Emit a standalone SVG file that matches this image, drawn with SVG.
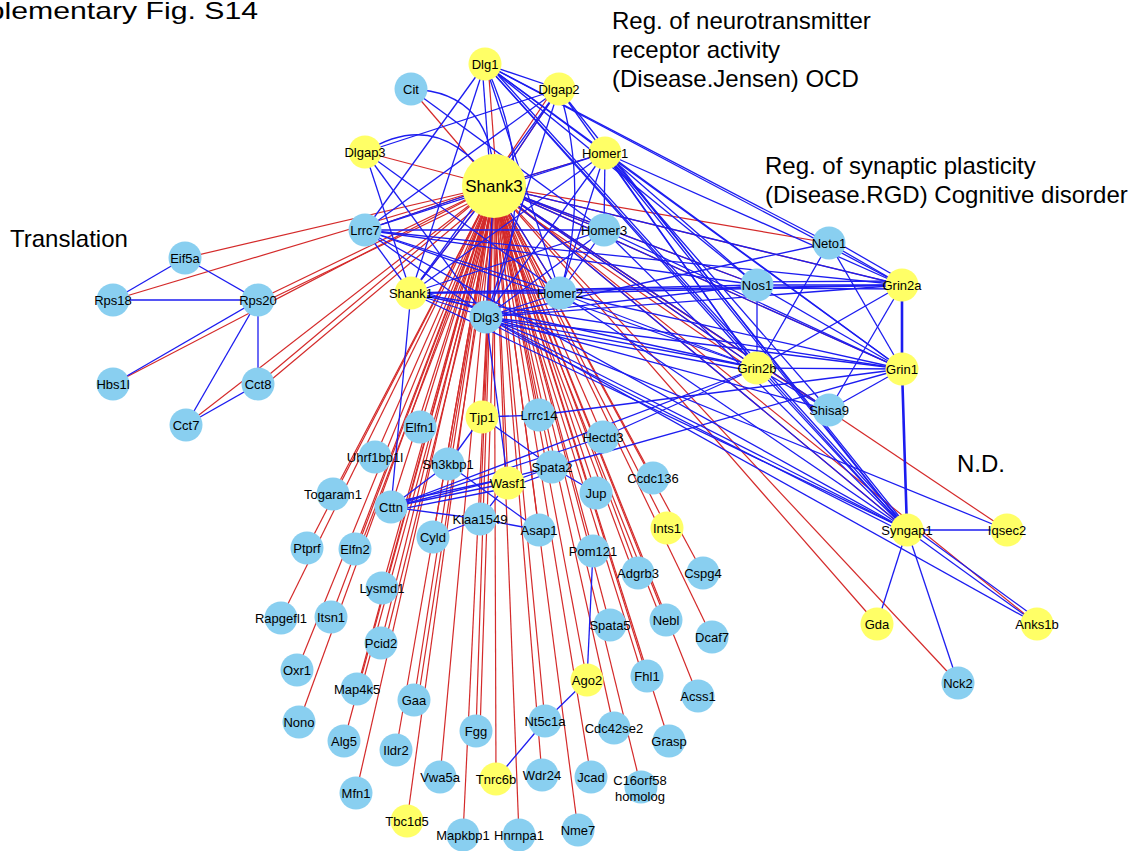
<svg xmlns="http://www.w3.org/2000/svg" width="1141" height="851" viewBox="0 0 1141 851">
<style>
.r{stroke:#d42a2a;stroke-width:1.2;fill:none}
.b{stroke:#1c1cf0;stroke-width:1.3;fill:none}
.bt{stroke:#1c1cf0;stroke-width:2.6;fill:none}
.nb{fill:#89cff0}
.ny{fill:#ffff66}
.lb{font-family:"Liberation Sans",Arial,Helvetica,sans-serif;font-size:13px;fill:#000;text-anchor:middle}
.big{font-family:"Liberation Sans",Arial,Helvetica,sans-serif;font-size:17px;fill:#000;text-anchor:middle}
.t{font-family:"Liberation Sans",Arial,Helvetica,sans-serif;font-size:24px;fill:#000}
</style>
<rect width="1141" height="851" fill="#fff"/>
<text class="t" x="-66" y="19" textLength="324" lengthAdjust="spacingAndGlyphs">Supplementary Fig. S14</text>
<text class="t" x="612" y="29">Reg. of neurotransmitter</text>
<text class="t" x="612" y="58">receptor activity</text>
<text class="t" x="612" y="87">(Disease.Jensen) OCD</text>
<text class="t" x="765" y="174">Reg. of synaptic plasticity</text>
<text class="t" x="765" y="203">(Disease.RGD) Cognitive disorder</text>
<text class="t" x="10" y="247">Translation</text>
<text class="t" x="957" y="472">N.D.</text>
<g id="connectors">
<g id="red-edges">
<line class="r" x1="488" y1="64" x2="497" y2="186"/>
<line class="r" x1="411" y1="89" x2="494" y2="186"/>
<line class="r" x1="559" y1="89" x2="494" y2="186"/>
<line class="r" x1="555" y1="87" x2="490" y2="184"/>
<line class="r" x1="365" y1="152" x2="494" y2="186"/>
<line class="r" x1="605" y1="153" x2="494" y2="186"/>
<line class="r" x1="365" y1="230" x2="494" y2="186"/>
<line class="r" x1="604" y1="230" x2="494" y2="186"/>
<line class="r" x1="411" y1="293" x2="494" y2="186"/>
<line class="r" x1="560" y1="293" x2="494" y2="186"/>
<line class="r" x1="486" y1="317" x2="494" y2="186"/>
<line class="r" x1="829" y1="243" x2="494" y2="186"/>
<line class="r" x1="757" y1="285" x2="494" y2="186"/>
<line class="r" x1="902" y1="285" x2="494" y2="186"/>
<line class="r" x1="757" y1="368" x2="494" y2="186"/>
<line class="r" x1="754" y1="371" x2="491" y2="189"/>
<line class="r" x1="902" y1="369" x2="494" y2="186"/>
<line class="r" x1="829" y1="410" x2="494" y2="186"/>
<line class="r" x1="907" y1="530" x2="494" y2="186"/>
<line class="r" x1="1007" y1="530" x2="494" y2="186"/>
<line class="r" x1="877" y1="624" x2="494" y2="186"/>
<line class="r" x1="1037" y1="624" x2="494" y2="186"/>
<line class="r" x1="958" y1="683" x2="494" y2="186"/>
<line class="r" x1="185" y1="258" x2="494" y2="186"/>
<line class="r" x1="113" y1="300" x2="494" y2="186"/>
<line class="r" x1="258" y1="300" x2="494" y2="186"/>
<line class="r" x1="258" y1="305" x2="494" y2="191"/>
<line class="r" x1="113" y1="384" x2="494" y2="186"/>
<line class="r" x1="258" y1="384" x2="494" y2="186"/>
<line class="r" x1="259" y1="390" x2="495" y2="192"/>
<line class="r" x1="186" y1="425" x2="494" y2="186"/>
<line class="r" x1="482" y1="417" x2="494" y2="186"/>
<line class="r" x1="539" y1="415" x2="494" y2="186"/>
<line class="r" x1="420" y1="427" x2="494" y2="186"/>
<line class="r" x1="603" y1="437" x2="494" y2="186"/>
<line class="r" x1="375" y1="457" x2="494" y2="186"/>
<line class="r" x1="448" y1="464" x2="494" y2="186"/>
<line class="r" x1="552" y1="467" x2="494" y2="186"/>
<line class="r" x1="508" y1="483" x2="494" y2="186"/>
<line class="r" x1="596" y1="493" x2="494" y2="186"/>
<line class="r" x1="653" y1="478" x2="494" y2="186"/>
<line class="r" x1="333" y1="494" x2="494" y2="186"/>
<line class="r" x1="391" y1="507" x2="494" y2="186"/>
<line class="r" x1="480" y1="519" x2="494" y2="186"/>
<line class="r" x1="433" y1="537" x2="494" y2="186"/>
<line class="r" x1="539" y1="530" x2="494" y2="186"/>
<line class="r" x1="667" y1="528" x2="494" y2="186"/>
<line class="r" x1="307" y1="548" x2="494" y2="186"/>
<line class="r" x1="355" y1="549" x2="494" y2="186"/>
<line class="r" x1="359" y1="550" x2="498" y2="187"/>
<line class="r" x1="593" y1="551" x2="494" y2="186"/>
<line class="r" x1="638" y1="573" x2="494" y2="186"/>
<line class="r" x1="634" y1="574" x2="490" y2="187"/>
<line class="r" x1="703" y1="573" x2="494" y2="186"/>
<line class="r" x1="382" y1="588" x2="494" y2="186"/>
<line class="r" x1="281" y1="618" x2="494" y2="186"/>
<line class="r" x1="331" y1="617" x2="494" y2="186"/>
<line class="r" x1="610" y1="625" x2="494" y2="186"/>
<line class="r" x1="666" y1="620" x2="494" y2="186"/>
<line class="r" x1="662" y1="621" x2="490" y2="187"/>
<line class="r" x1="712" y1="637" x2="494" y2="186"/>
<line class="r" x1="381" y1="643" x2="494" y2="186"/>
<line class="r" x1="385" y1="643" x2="498" y2="186"/>
<line class="r" x1="297" y1="670" x2="494" y2="186"/>
<line class="r" x1="647" y1="676" x2="494" y2="186"/>
<line class="r" x1="643" y1="677" x2="490" y2="187"/>
<line class="r" x1="587" y1="680" x2="494" y2="186"/>
<line class="r" x1="698" y1="696" x2="494" y2="186"/>
<line class="r" x1="357" y1="689" x2="494" y2="186"/>
<line class="r" x1="361" y1="689" x2="498" y2="186"/>
<line class="r" x1="414" y1="700" x2="494" y2="186"/>
<line class="r" x1="418" y1="700" x2="498" y2="186"/>
<line class="r" x1="545" y1="721" x2="494" y2="186"/>
<line class="r" x1="614" y1="728" x2="494" y2="186"/>
<line class="r" x1="669" y1="741" x2="494" y2="186"/>
<line class="r" x1="299" y1="722" x2="494" y2="186"/>
<line class="r" x1="476" y1="731" x2="494" y2="186"/>
<line class="r" x1="480" y1="731" x2="498" y2="186"/>
<line class="r" x1="344" y1="741" x2="494" y2="186"/>
<line class="r" x1="396" y1="750" x2="494" y2="186"/>
<line class="r" x1="440" y1="777" x2="494" y2="186"/>
<line class="r" x1="496" y1="779" x2="494" y2="186"/>
<line class="r" x1="542" y1="775" x2="494" y2="186"/>
<line class="r" x1="591" y1="777" x2="494" y2="186"/>
<line class="r" x1="641" y1="787" x2="494" y2="186"/>
<line class="r" x1="356" y1="793" x2="494" y2="186"/>
<line class="r" x1="407" y1="821" x2="494" y2="186"/>
<line class="r" x1="463" y1="835" x2="494" y2="186"/>
<line class="r" x1="519" y1="835" x2="494" y2="186"/>
<line class="r" x1="578" y1="830" x2="494" y2="186"/>
</g>
<g id="blue-edges">
<line class="b" x1="482" y1="64" x2="491" y2="186"/>
<line class="b" x1="485" y1="64" x2="365" y2="230"/>
<line class="b" x1="485" y1="64" x2="411" y2="293"/>
<line class="b" x1="485" y1="64" x2="605" y2="153"/>
<line class="b" x1="485" y1="64" x2="829" y2="243"/>
<line class="b" x1="485" y1="64" x2="902" y2="285"/>
<line class="b" x1="485" y1="64" x2="757" y2="285"/>
<line class="b" x1="485" y1="64" x2="757" y2="368"/>
<line class="b" x1="485" y1="64" x2="907" y2="530"/>
<line class="b" x1="488" y1="64" x2="910" y2="530"/>
<line class="b" x1="485" y1="64" x2="902" y2="369"/>
<line class="b" x1="485" y1="64" x2="560" y2="293"/>
<line class="b" x1="485" y1="64" x2="559" y2="89"/>
<path class="b" d="M485,64 Q545,190 486,317"/>
<path class="b" d="M411,89 Q495,92 494,186"/>
<line class="b" x1="411" y1="89" x2="604" y2="230"/>
<line class="b" x1="559" y1="89" x2="365" y2="152"/>
<line class="b" x1="559" y1="89" x2="494" y2="186"/>
<line class="b" x1="559" y1="89" x2="365" y2="230"/>
<path class="b" d="M559,89 Q590,190 560,293"/>
<line class="b" x1="559" y1="89" x2="486" y2="317"/>
<line class="b" x1="559" y1="89" x2="907" y2="530"/>
<line class="b" x1="559" y1="89" x2="757" y2="368"/>
<line class="b" x1="559" y1="89" x2="411" y2="293"/>
<path class="b" d="M365,152 Q440,105 494,186"/>
<line class="b" x1="365" y1="152" x2="486" y2="317"/>
<line class="b" x1="365" y1="152" x2="560" y2="293"/>
<line class="b" x1="365" y1="152" x2="411" y2="293"/>
<line class="b" x1="605" y1="153" x2="494" y2="186"/>
<line class="b" x1="605" y1="153" x2="411" y2="293"/>
<line class="b" x1="605" y1="153" x2="560" y2="293"/>
<line class="b" x1="605" y1="153" x2="604" y2="230"/>
<line class="b" x1="605" y1="153" x2="486" y2="317"/>
<line class="b" x1="605" y1="153" x2="902" y2="369"/>
<line class="b" x1="605" y1="153" x2="907" y2="530"/>
<line class="b" x1="608" y1="153" x2="910" y2="530"/>
<line class="b" x1="605" y1="153" x2="757" y2="368"/>
<line class="b" x1="605" y1="153" x2="829" y2="410"/>
<line class="b" x1="605" y1="153" x2="757" y2="285"/>
<line class="b" x1="605" y1="153" x2="365" y2="230"/>
<line class="b" x1="605" y1="153" x2="902" y2="285"/>
<line class="b" x1="365" y1="230" x2="411" y2="293"/>
<line class="b" x1="365" y1="230" x2="486" y2="317"/>
<line class="b" x1="365" y1="230" x2="560" y2="293"/>
<line class="b" x1="365" y1="230" x2="604" y2="230"/>
<line class="b" x1="365" y1="230" x2="757" y2="285"/>
<line class="b" x1="365" y1="230" x2="757" y2="368"/>
<line class="b" x1="365" y1="230" x2="494" y2="186"/>
<line class="b" x1="365" y1="230" x2="902" y2="285"/>
<line class="b" x1="365" y1="230" x2="907" y2="530"/>
<line class="b" x1="604" y1="230" x2="411" y2="293"/>
<line class="b" x1="604" y1="230" x2="486" y2="317"/>
<line class="b" x1="604" y1="230" x2="560" y2="293"/>
<line class="b" x1="604" y1="230" x2="902" y2="369"/>
<line class="b" x1="604" y1="230" x2="494" y2="186"/>
<line class="b" x1="604" y1="230" x2="907" y2="530"/>
<line class="b" x1="411" y1="293" x2="560" y2="293"/>
<line class="b" x1="411" y1="293" x2="486" y2="317"/>
<line class="b" x1="411" y1="288" x2="486" y2="312"/>
<line class="b" x1="411" y1="293" x2="494" y2="186"/>
<line class="b" x1="411" y1="293" x2="757" y2="368"/>
<line class="b" x1="411" y1="293" x2="757" y2="285"/>
<line class="b" x1="411" y1="293" x2="907" y2="530"/>
<line class="b" x1="411" y1="293" x2="391" y2="507"/>
<line class="b" x1="411" y1="293" x2="902" y2="369"/>
<line class="b" x1="411" y1="293" x2="902" y2="285"/>
<line class="b" x1="560" y1="293" x2="486" y2="317"/>
<line class="b" x1="560" y1="293" x2="902" y2="285"/>
<line class="b" x1="560" y1="293" x2="902" y2="369"/>
<line class="b" x1="560" y1="293" x2="494" y2="186"/>
<line class="b" x1="560" y1="293" x2="757" y2="368"/>
<line class="b" x1="560" y1="293" x2="907" y2="530"/>
<line class="b" x1="486" y1="317" x2="757" y2="285"/>
<line class="b" x1="486" y1="317" x2="902" y2="285"/>
<line class="b" x1="486" y1="317" x2="757" y2="368"/>
<line class="b" x1="486" y1="321" x2="757" y2="372"/>
<line class="b" x1="486" y1="317" x2="902" y2="369"/>
<line class="b" x1="486" y1="317" x2="907" y2="530"/>
<line class="b" x1="486" y1="321" x2="907" y2="534"/>
<line class="b" x1="486" y1="317" x2="829" y2="410"/>
<line class="b" x1="486" y1="317" x2="829" y2="243"/>
<line class="b" x1="486" y1="317" x2="508" y2="483"/>
<line class="b" x1="486" y1="317" x2="494" y2="186"/>
<line class="b" x1="486" y1="317" x2="1007" y2="530"/>
<line class="b" x1="486" y1="317" x2="1037" y2="624"/>
<line class="b" x1="494" y1="186" x2="757" y2="368"/>
<line class="b" x1="494" y1="186" x2="907" y2="530"/>
<line class="b" x1="494" y1="186" x2="757" y2="285"/>
<line class="b" x1="494" y1="186" x2="902" y2="369"/>
<line class="b" x1="494" y1="186" x2="902" y2="285"/>
<line class="b" x1="494" y1="186" x2="829" y2="410"/>
<line class="b" x1="757" y1="285" x2="902" y2="285"/>
<line class="b" x1="757" y1="282" x2="902" y2="281"/>
<line class="b" x1="757" y1="288" x2="902" y2="289"/>
<line class="b" x1="757" y1="285" x2="757" y2="368"/>
<line class="b" x1="757" y1="285" x2="902" y2="369"/>
<line class="b" x1="829" y1="243" x2="902" y2="285"/>
<line class="b" x1="831" y1="239" x2="904" y2="281"/>
<line class="b" x1="829" y1="243" x2="757" y2="368"/>
<line class="b" x1="829" y1="243" x2="902" y2="369"/>
<line class="bt" x1="902" y1="285" x2="902" y2="369"/>
<line class="b" x1="902" y1="285" x2="757" y2="368"/>
<line class="b" x1="902" y1="285" x2="829" y2="410"/>
<line class="b" x1="757" y1="368" x2="902" y2="369"/>
<line class="b" x1="757" y1="368" x2="907" y2="530"/>
<line class="b" x1="757" y1="368" x2="829" y2="410"/>
<line class="b" x1="902" y1="369" x2="829" y2="410"/>
<line class="bt" x1="902" y1="369" x2="907" y2="530"/>
<line class="b" x1="907" y1="530" x2="1007" y2="530"/>
<line class="b" x1="907" y1="530" x2="877" y2="624"/>
<line class="b" x1="907" y1="530" x2="958" y2="683"/>
<line class="b" x1="907" y1="530" x2="1037" y2="624"/>
<line class="b" x1="910" y1="526" x2="1039" y2="620"/>
<line class="b" x1="482" y1="417" x2="539" y2="415"/>
<line class="b" x1="482" y1="417" x2="448" y2="464"/>
<line class="b" x1="482" y1="417" x2="552" y2="467"/>
<line class="b" x1="391" y1="507" x2="448" y2="464"/>
<line class="b" x1="391" y1="507" x2="508" y2="483"/>
<line class="b" x1="391" y1="503" x2="508" y2="478"/>
<line class="b" x1="391" y1="511" x2="508" y2="488"/>
<line class="b" x1="391" y1="507" x2="552" y2="467"/>
<line class="b" x1="391" y1="507" x2="603" y2="437"/>
<line class="b" x1="391" y1="507" x2="757" y2="368"/>
<line class="b" x1="391" y1="507" x2="480" y2="519"/>
<line class="b" x1="448" y1="464" x2="539" y2="530"/>
<line class="b" x1="480" y1="519" x2="508" y2="483"/>
<line class="b" x1="480" y1="519" x2="433" y2="537"/>
<line class="b" x1="480" y1="519" x2="539" y2="530"/>
<line class="b" x1="552" y1="467" x2="596" y2="493"/>
<line class="b" x1="552" y1="467" x2="508" y2="483"/>
<line class="b" x1="552" y1="472" x2="508" y2="488"/>
<line class="b" x1="552" y1="467" x2="902" y2="369"/>
<line class="b" x1="603" y1="437" x2="757" y2="368"/>
<line class="b" x1="539" y1="415" x2="902" y2="369"/>
<line class="b" x1="593" y1="551" x2="587" y2="680"/>
<line class="b" x1="587" y1="680" x2="545" y2="721"/>
<line class="b" x1="545" y1="721" x2="496" y2="779"/>
<line class="b" x1="185" y1="258" x2="113" y2="300"/>
<line class="b" x1="185" y1="258" x2="258" y2="300"/>
<line class="b" x1="113" y1="300" x2="258" y2="300"/>
<line class="b" x1="258" y1="300" x2="113" y2="384"/>
<line class="b" x1="258" y1="300" x2="186" y2="425"/>
<line class="b" x1="258" y1="300" x2="258" y2="384"/>
<line class="b" x1="258" y1="384" x2="186" y2="425"/>
</g>
</g>
<g id="nodes">
<g id="n-Shank3"><circle class="ny" cx="494" cy="186" r="32"/><text class="big" x="494" y="192">Shank3</text></g>
<g id="n-Dlg1"><circle class="ny" cx="485" cy="64" r="16.5"/><text class="lb" x="485" y="69">Dlg1</text></g>
<g id="n-Cit"><circle class="nb" cx="411" cy="89" r="16.5"/><text class="lb" x="411" y="94">Cit</text></g>
<g id="n-Dlgap2"><circle class="ny" cx="559" cy="89" r="16.5"/><text class="lb" x="559" y="94">Dlgap2</text></g>
<g id="n-Dlgap3"><circle class="ny" cx="365" cy="152" r="16.5"/><text class="lb" x="365" y="157">Dlgap3</text></g>
<g id="n-Homer1"><circle class="ny" cx="605" cy="153" r="16.5"/><text class="lb" x="605" y="158">Homer1</text></g>
<g id="n-Lrrc7"><circle class="nb" cx="365" cy="230" r="16.5"/><text class="lb" x="365" y="235">Lrrc7</text></g>
<g id="n-Homer3"><circle class="nb" cx="604" cy="230" r="16.5"/><text class="lb" x="604" y="235">Homer3</text></g>
<g id="n-Shank1"><circle class="ny" cx="411" cy="293" r="16.5"/><text class="lb" x="411" y="298">Shank1</text></g>
<g id="n-Homer2"><circle class="nb" cx="560" cy="293" r="16.5"/><text class="lb" x="560" y="298">Homer2</text></g>
<g id="n-Dlg3"><circle class="nb" cx="486" cy="317" r="16.5"/><text class="lb" x="486" y="322">Dlg3</text></g>
<g id="n-Neto1"><circle class="nb" cx="829" cy="243" r="16.5"/><text class="lb" x="829" y="248">Neto1</text></g>
<g id="n-Nos1"><circle class="nb" cx="757" cy="285" r="16.5"/><text class="lb" x="757" y="290">Nos1</text></g>
<g id="n-Grin2a"><circle class="ny" cx="902" cy="285" r="16.5"/><text class="lb" x="902" y="290">Grin2a</text></g>
<g id="n-Grin2b"><circle class="ny" cx="757" cy="368" r="16.5"/><text class="lb" x="757" y="373">Grin2b</text></g>
<g id="n-Grin1"><circle class="ny" cx="902" cy="369" r="16.5"/><text class="lb" x="902" y="374">Grin1</text></g>
<g id="n-Shisa9"><circle class="nb" cx="829" cy="410" r="16.5"/><text class="lb" x="829" y="415">Shisa9</text></g>
<g id="n-Syngap1"><circle class="ny" cx="907" cy="530" r="16.5"/><text class="lb" x="907" y="535">Syngap1</text></g>
<g id="n-Iqsec2"><circle class="ny" cx="1007" cy="530" r="16.5"/><text class="lb" x="1007" y="535">Iqsec2</text></g>
<g id="n-Gda"><circle class="ny" cx="877" cy="624" r="16.5"/><text class="lb" x="877" y="629">Gda</text></g>
<g id="n-Anks1b"><circle class="ny" cx="1037" cy="624" r="16.5"/><text class="lb" x="1037" y="629">Anks1b</text></g>
<g id="n-Nck2"><circle class="nb" cx="958" cy="683" r="16.5"/><text class="lb" x="958" y="688">Nck2</text></g>
<g id="n-Eif5a"><circle class="nb" cx="185" cy="258" r="16.5"/><text class="lb" x="185" y="263">Eif5a</text></g>
<g id="n-Rps18"><circle class="nb" cx="113" cy="300" r="16.5"/><text class="lb" x="113" y="305">Rps18</text></g>
<g id="n-Rps20"><circle class="nb" cx="258" cy="300" r="16.5"/><text class="lb" x="258" y="305">Rps20</text></g>
<g id="n-Hbs1l"><circle class="nb" cx="113" cy="384" r="16.5"/><text class="lb" x="113" y="389">Hbs1l</text></g>
<g id="n-Cct8"><circle class="nb" cx="258" cy="384" r="16.5"/><text class="lb" x="258" y="389">Cct8</text></g>
<g id="n-Cct7"><circle class="nb" cx="186" cy="425" r="16.5"/><text class="lb" x="186" y="430">Cct7</text></g>
<g id="n-Tjp1"><circle class="ny" cx="482" cy="417" r="16.5"/><text class="lb" x="482" y="422">Tjp1</text></g>
<g id="n-Lrrc14"><circle class="nb" cx="539" cy="415" r="16.5"/><text class="lb" x="539" y="420">Lrrc14</text></g>
<g id="n-Elfn1"><circle class="nb" cx="420" cy="427" r="16.5"/><text class="lb" x="420" y="432">Elfn1</text></g>
<g id="n-Hectd3"><circle class="nb" cx="603" cy="437" r="16.5"/><text class="lb" x="603" y="442">Hectd3</text></g>
<g id="n-Uhrf1bp1l"><circle class="nb" cx="375" cy="457" r="16.5"/><text class="lb" x="375" y="462">Uhrf1bp1l</text></g>
<g id="n-Sh3kbp1"><circle class="nb" cx="448" cy="464" r="16.5"/><text class="lb" x="448" y="469">Sh3kbp1</text></g>
<g id="n-Spata2"><circle class="nb" cx="552" cy="467" r="16.5"/><text class="lb" x="552" y="472">Spata2</text></g>
<g id="n-Wasf1"><circle class="ny" cx="508" cy="483" r="16.5"/><text class="lb" x="508" y="488">Wasf1</text></g>
<g id="n-Jup"><circle class="nb" cx="596" cy="493" r="16.5"/><text class="lb" x="596" y="498">Jup</text></g>
<g id="n-Ccdc136"><circle class="nb" cx="653" cy="478" r="16.5"/><text class="lb" x="653" y="483">Ccdc136</text></g>
<g id="n-Togaram1"><circle class="nb" cx="333" cy="494" r="16.5"/><text class="lb" x="333" y="499">Togaram1</text></g>
<g id="n-Cttn"><circle class="nb" cx="391" cy="507" r="16.5"/><text class="lb" x="391" y="512">Cttn</text></g>
<g id="n-Kiaa1549"><circle class="nb" cx="480" cy="519" r="16.5"/><text class="lb" x="480" y="524">Kiaa1549</text></g>
<g id="n-Cyld"><circle class="nb" cx="433" cy="537" r="16.5"/><text class="lb" x="433" y="542">Cyld</text></g>
<g id="n-Asap1"><circle class="nb" cx="539" cy="530" r="16.5"/><text class="lb" x="539" y="535">Asap1</text></g>
<g id="n-Ints1"><circle class="ny" cx="667" cy="528" r="16.5"/><text class="lb" x="667" y="533">Ints1</text></g>
<g id="n-Ptprf"><circle class="nb" cx="307" cy="548" r="16.5"/><text class="lb" x="307" y="553">Ptprf</text></g>
<g id="n-Elfn2"><circle class="nb" cx="355" cy="549" r="16.5"/><text class="lb" x="355" y="554">Elfn2</text></g>
<g id="n-Pom121"><circle class="nb" cx="593" cy="551" r="16.5"/><text class="lb" x="593" y="556">Pom121</text></g>
<g id="n-Adgrb3"><circle class="nb" cx="638" cy="573" r="16.5"/><text class="lb" x="638" y="578">Adgrb3</text></g>
<g id="n-Cspg4"><circle class="nb" cx="703" cy="573" r="16.5"/><text class="lb" x="703" y="578">Cspg4</text></g>
<g id="n-Lysmd1"><circle class="nb" cx="382" cy="588" r="16.5"/><text class="lb" x="382" y="593">Lysmd1</text></g>
<g id="n-Rapgefl1"><circle class="nb" cx="281" cy="618" r="16.5"/><text class="lb" x="281" y="623">Rapgefl1</text></g>
<g id="n-Itsn1"><circle class="nb" cx="331" cy="617" r="16.5"/><text class="lb" x="331" y="622">Itsn1</text></g>
<g id="n-Spata5"><circle class="nb" cx="610" cy="625" r="16.5"/><text class="lb" x="610" y="630">Spata5</text></g>
<g id="n-Nebl"><circle class="nb" cx="666" cy="620" r="16.5"/><text class="lb" x="666" y="625">Nebl</text></g>
<g id="n-Dcaf7"><circle class="nb" cx="712" cy="637" r="16.5"/><text class="lb" x="712" y="642">Dcaf7</text></g>
<g id="n-Pcid2"><circle class="nb" cx="381" cy="643" r="16.5"/><text class="lb" x="381" y="648">Pcid2</text></g>
<g id="n-Oxr1"><circle class="nb" cx="297" cy="670" r="16.5"/><text class="lb" x="297" y="675">Oxr1</text></g>
<g id="n-Fhl1"><circle class="nb" cx="647" cy="676" r="16.5"/><text class="lb" x="647" y="681">Fhl1</text></g>
<g id="n-Ago2"><circle class="ny" cx="587" cy="680" r="16.5"/><text class="lb" x="587" y="685">Ago2</text></g>
<g id="n-Acss1"><circle class="nb" cx="698" cy="696" r="16.5"/><text class="lb" x="698" y="701">Acss1</text></g>
<g id="n-Map4k5"><circle class="nb" cx="357" cy="689" r="16.5"/><text class="lb" x="357" y="694">Map4k5</text></g>
<g id="n-Gaa"><circle class="nb" cx="414" cy="700" r="16.5"/><text class="lb" x="414" y="705">Gaa</text></g>
<g id="n-Nt5c1a"><circle class="nb" cx="545" cy="721" r="16.5"/><text class="lb" x="545" y="726">Nt5c1a</text></g>
<g id="n-Cdc42se2"><circle class="nb" cx="614" cy="728" r="16.5"/><text class="lb" x="614" y="733">Cdc42se2</text></g>
<g id="n-Grasp"><circle class="nb" cx="669" cy="741" r="16.5"/><text class="lb" x="669" y="746">Grasp</text></g>
<g id="n-Nono"><circle class="nb" cx="299" cy="722" r="16.5"/><text class="lb" x="299" y="727">Nono</text></g>
<g id="n-Fgg"><circle class="nb" cx="476" cy="731" r="16.5"/><text class="lb" x="476" y="736">Fgg</text></g>
<g id="n-Alg5"><circle class="nb" cx="344" cy="741" r="16.5"/><text class="lb" x="344" y="746">Alg5</text></g>
<g id="n-Ildr2"><circle class="nb" cx="396" cy="750" r="16.5"/><text class="lb" x="396" y="755">Ildr2</text></g>
<g id="n-Vwa5a"><circle class="nb" cx="440" cy="777" r="16.5"/><text class="lb" x="440" y="782">Vwa5a</text></g>
<g id="n-Tnrc6b"><circle class="ny" cx="496" cy="779" r="16.5"/><text class="lb" x="496" y="784">Tnrc6b</text></g>
<g id="n-Wdr24"><circle class="nb" cx="542" cy="775" r="16.5"/><text class="lb" x="542" y="780">Wdr24</text></g>
<g id="n-Jcad"><circle class="nb" cx="591" cy="777" r="16.5"/><text class="lb" x="591" y="782">Jcad</text></g>
<g id="n-C16orf58"><circle class="nb" cx="641" cy="787" r="16.5"/><text class="lb" x="640" y="785">C16orf58</text><text class="lb" x="640" y="801">homolog</text></g>
<g id="n-Mfn1"><circle class="nb" cx="356" cy="793" r="16.5"/><text class="lb" x="356" y="798">Mfn1</text></g>
<g id="n-Tbc1d5"><circle class="ny" cx="407" cy="821" r="16.5"/><text class="lb" x="407" y="826">Tbc1d5</text></g>
<g id="n-Mapkbp1"><circle class="nb" cx="463" cy="835" r="16.5"/><text class="lb" x="463" y="840">Mapkbp1</text></g>
<g id="n-Hnrnpa1"><circle class="nb" cx="519" cy="835" r="16.5"/><text class="lb" x="519" y="840">Hnrnpa1</text></g>
<g id="n-Nme7"><circle class="nb" cx="578" cy="830" r="16.5"/><text class="lb" x="578" y="835">Nme7</text></g>
</g>
</svg>
